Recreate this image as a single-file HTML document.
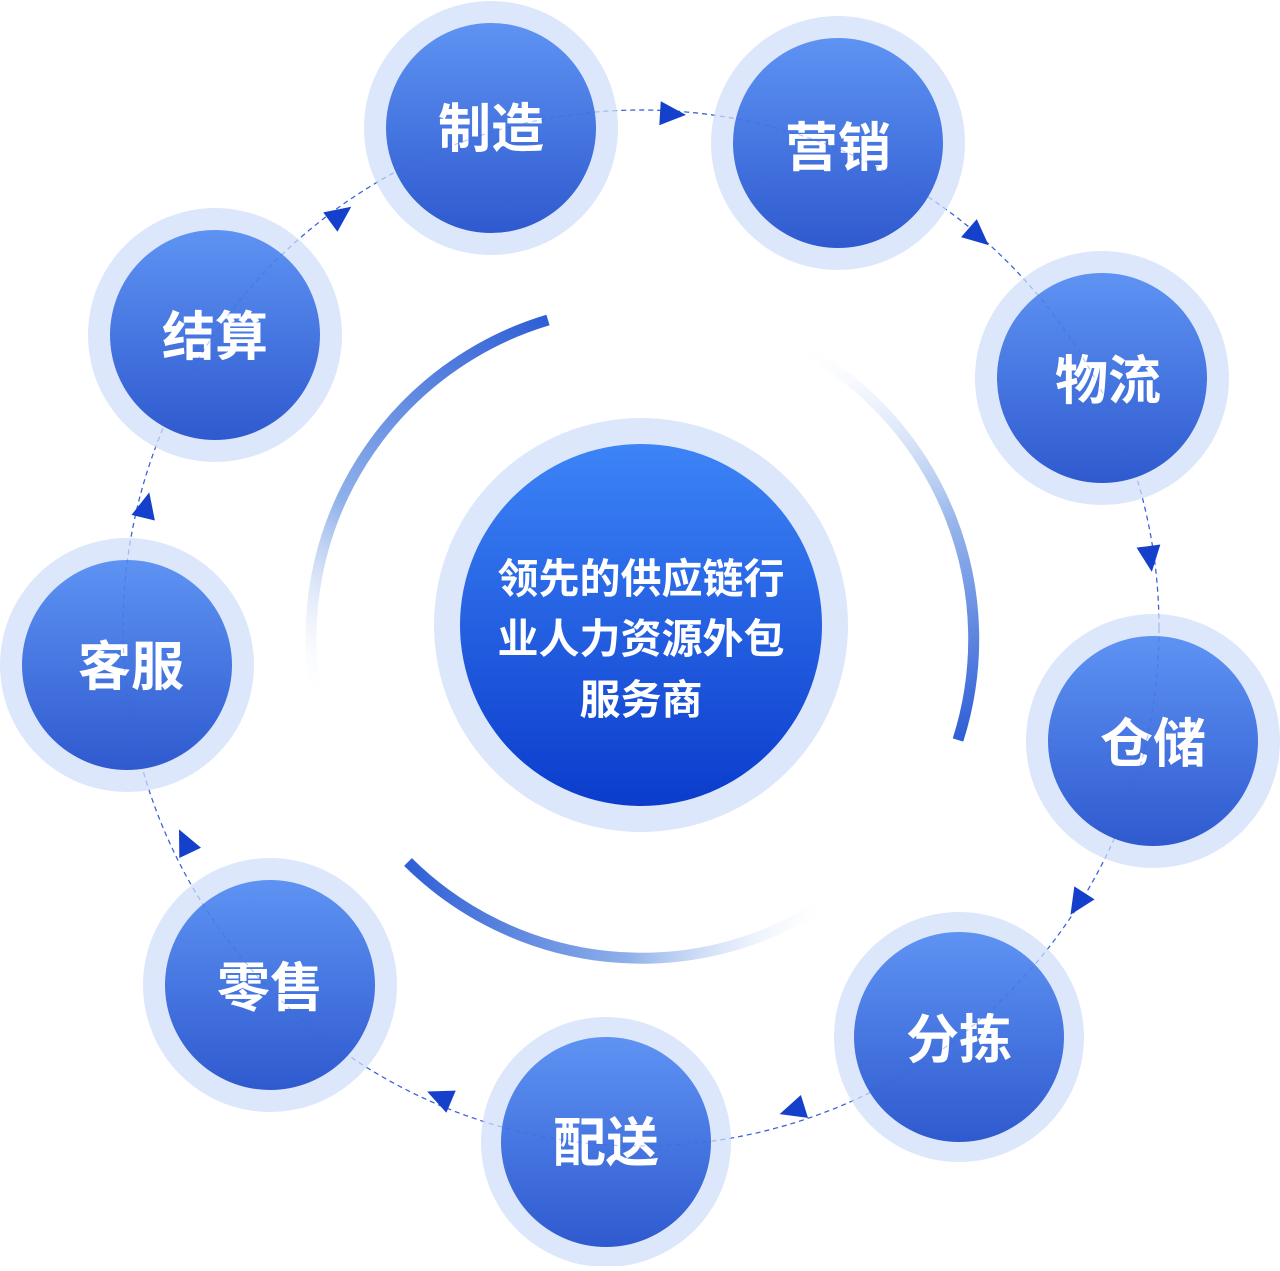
<!DOCTYPE html>
<html><head><meta charset="utf-8"><style>
html,body{margin:0;padding:0;background:#fff;}
body{width:1280px;height:1266px;overflow:hidden;}
text{font-family:"Liberation Sans","Noto Sans CJK SC",sans-serif;}
</style></head><body>
<svg width="1280" height="1266" viewBox="0 0 1280 1266" xmlns="http://www.w3.org/2000/svg">
<defs>
<linearGradient id="nodeG" x1="0" y1="0" x2="0" y2="1">
<stop offset="0" stop-color="#5e93f3"/><stop offset="1" stop-color="#2f5acf"/></linearGradient>
<linearGradient id="cenG" x1="0" y1="0" x2="0" y2="1">
<stop offset="0" stop-color="#3d84f7"/><stop offset="1" stop-color="#0b3ccc"/></linearGradient>
<linearGradient id="a1" gradientUnits="userSpaceOnUse" x1="548" y1="320" x2="315" y2="690">
<stop offset="0" stop-color="#2f5fd6"/><stop offset="0.6" stop-color="#8fb0ea"/><stop offset="1" stop-color="#fff" stop-opacity="0.2"/></linearGradient>
<linearGradient id="a2" gradientUnits="userSpaceOnUse" x1="805" y1="350" x2="958" y2="740">
<stop offset="0" stop-color="#fff" stop-opacity="0.2"/><stop offset="0.5" stop-color="#9ab8ec"/><stop offset="1" stop-color="#2f5fd6"/></linearGradient>
<linearGradient id="a3" gradientUnits="userSpaceOnUse" x1="408" y1="862" x2="822" y2="905">
<stop offset="0" stop-color="#2f5fd6"/><stop offset="0.55" stop-color="#8fb0ea"/><stop offset="1" stop-color="#fff" stop-opacity="0.2"/></linearGradient>
</defs>

<circle cx="641" cy="628" r="518" fill="none" stroke="#3a62d8" stroke-width="1.2" stroke-dasharray="5 4"/>

<path d="M548,320 A332,332 0 0 0 315,690" fill="none" stroke="url(#a1)" stroke-width="11"/>
<path d="M805,350 A332,332 0 0 1 958,740" fill="none" stroke="url(#a2)" stroke-width="11"/>
<path d="M408,862 A332,332 0 0 0 822,905" fill="none" stroke="url(#a3)" stroke-width="11"/>

<circle cx="641" cy="625" r="207" fill="#dde7fb"/>
<circle cx="641" cy="625" r="181" fill="url(#cenG)"/>
<g font-size="41" font-weight="bold" fill="#fff" text-anchor="middle">
<text x="641" y="593">领先的供应链行</text>
<text x="641" y="653">业人力资源外包</text>
<text x="641" y="714">服务商</text>
</g>

<g font-size="53" font-weight="bold" fill="#fff" text-anchor="middle">
<g><circle cx="491" cy="128" r="127" fill="#dde7fb"/><circle cx="491" cy="128" r="105" fill="url(#nodeG)"/><text x="491" y="147">制造</text></g>
<g><circle cx="838" cy="143" r="127" fill="#dde7fb"/><circle cx="838" cy="143" r="105" fill="url(#nodeG)"/><text x="838" y="166">营销</text></g>
<g><circle cx="1102" cy="378" r="127" fill="#dde7fb"/><circle cx="1102" cy="378" r="105" fill="url(#nodeG)"/><text x="1108" y="399">物流</text></g>
<g><circle cx="1153" cy="741" r="127" fill="#dde7fb"/><circle cx="1153" cy="741" r="105" fill="url(#nodeG)"/><text x="1153" y="762">仓储</text></g>
<g><circle cx="959" cy="1037" r="125" fill="#dde7fb"/><circle cx="959" cy="1037" r="105" fill="url(#nodeG)"/><text x="959" y="1058">分拣</text></g>
<g><circle cx="606" cy="1142" r="125" fill="#dde7fb"/><circle cx="606" cy="1142" r="105" fill="url(#nodeG)"/><text x="606" y="1161">配送</text></g>
<g><circle cx="270" cy="985" r="127" fill="#dde7fb"/><circle cx="270" cy="985" r="105" fill="url(#nodeG)"/><text x="270" y="1006">零售</text></g>
<g><circle cx="127" cy="665" r="127" fill="#dde7fb"/><circle cx="127" cy="665" r="105" fill="url(#nodeG)"/><text x="131" y="685">客服</text></g>
<g><circle cx="215" cy="335" r="127" fill="#dde7fb"/><circle cx="215" cy="335" r="105" fill="url(#nodeG)"/><text x="215" y="355">结算</text></g>
</g>

<circle cx="641" cy="628" r="518" fill="none" stroke="#3a62d8" stroke-opacity="0.35" stroke-width="1.2" stroke-dasharray="5 4"/>

<g fill="#1540cc">
<polygon points="14,0 -12,-12 -12,12" transform="translate(672,114) rotate(3.5)"/>
<polygon points="14,0 -12,-12 -12,12" transform="translate(978,236) rotate(41)"/>
<polygon points="14,0 -12,-12 -12,12" transform="translate(1150,558) rotate(82.5)"/>
<polygon points="14,0 -12,-12 -12,12" transform="translate(1078,903) rotate(122.5)"/>
<polygon points="14,0 -12,-12 -12,12" transform="translate(793,1110) rotate(162.6)"/>
<polygon points="14,0 -12,-12 -12,12" transform="translate(440,1097) rotate(203)"/>
<polygon points="14,0 -12,-12 -12,12" transform="translate(185,842) rotate(244.6)"/>
<polygon points="14,0 -12,-12 -12,12" transform="translate(146,506) rotate(283.5)"/>
<polygon points="14,0 -12,-12 -12,12" transform="translate(340,215) rotate(323.7)"/>
</g>
</svg>
</body></html>
